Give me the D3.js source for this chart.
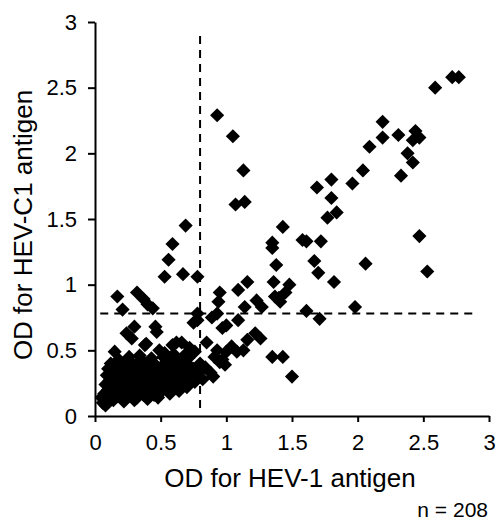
<!DOCTYPE html>
<html lang="en">
<head>
<meta charset="utf-8">
<title>HEV-1 vs HEV-C1 OD</title>
<script src="https://d3js.org/d3.v7.min.js"></script>
<style>
  body { margin: 0; background: #fff; }
  text { font-family: "Liberation Sans", Arial, sans-serif; fill: #000; }
</style>
</head>
<body>
<svg class="chart"></svg>
<script>
// OD for HEV-1 antigen (x) and OD for HEV-C1 antigen (y)
var hevOne = [
  2.59,2.72,2.77,2.19,2.19,2.31,2.44,2.42,2.47,2.09,2.38,2.42,2.33,2.04,1.96,1.80,1.69,1.80,1.84,1.77,
  1.43,1.61,1.72,2.47,1.67,2.06,2.53,1.70,1.82,1.48,1.45,1.98,1.61,1.71,1.50,0.93,1.05,1.13,1.07,1.14,
  1.35,1.35,1.58,1.38,0.78,1.16,1.09,1.36,1.37,0.95,0.94,1.23,1.14,0.69,0.59,0.56,0.53,0.67,1.27,1.40,
  0.17,0.32,0.37,0.40,0.44,0.21,0.75,0.78,0.89,0.93,1.09,1.00,0.97,0.30,0.24,0.28,0.46,0.47,0.15,0.25,
  0.39,0.49,0.53,0.62,0.66,0.72,0.76,0.85,0.93,1.00,1.04,1.08,1.13,0.97,1.22,1.26,1.16,1.35,1.43,0.80,
  0.84,0.88,0.90,0.76,0.78,1.41,0.91,0.95,0.99,0.38,0.34,0.59,0.71,0.55,
  0.06,0.08,0.09,0.07,0.10,0.08,0.11,0.09,0.12,0.13,0.14,0.12,0.14,0.15,0.16,0.17,0.18,0.19,0.17,0.20,
  0.21,0.22,0.20,0.23,0.24,0.25,0.26,0.27,0.28,0.29,0.30,0.31,0.32,0.33,0.34,0.35,0.36,0.37,0.38,0.39,
  0.40,0.41,0.42,0.43,0.44,0.45,0.46,0.47,0.48,0.49,0.50,0.51,0.52,0.53,0.54,0.55,0.56,0.57,0.58,0.59,
  0.60,0.61,0.62,0.63,0.64,0.65,0.66,0.67,0.68,0.69,0.70,0.71,0.72,0.73,0.74,0.75,0.12,0.18,0.26,0.33,
  0.43,0.52,0.60,0.68,0.05,0.10,0.22,0.30,0.40,0.48,0.57,0.64,0.70,0.78,0.80,0.82,0.45,0.36
];
var hevC1 = [
  2.50,2.58,2.58,2.24,2.12,2.14,2.17,2.10,2.12,2.05,2.00,1.93,1.83,1.87,1.77,1.80,1.74,1.66,1.55,1.51,
  1.44,1.33,1.33,1.37,1.18,1.16,1.10,1.09,1.02,1.00,0.94,0.83,0.80,0.74,0.30,2.29,2.13,1.87,1.61,1.63,
  1.32,1.28,1.34,1.15,1.06,1.02,0.96,1.02,0.91,0.94,0.87,0.88,0.83,1.45,1.31,1.19,1.06,1.08,0.83,0.90,
  0.91,0.94,0.89,0.85,0.82,0.81,0.71,0.73,0.75,0.78,0.73,0.69,0.67,0.68,0.63,0.59,0.68,0.64,0.49,0.43,
  0.55,0.50,0.48,0.56,0.56,0.52,0.49,0.56,0.50,0.49,0.53,0.49,0.50,0.43,0.63,0.59,0.58,0.45,0.45,0.40,
  0.37,0.33,0.30,0.26,0.78,0.87,0.45,0.41,0.39,0.54,0.46,0.54,0.44,0.43,
  0.10,0.08,0.13,0.17,0.20,0.24,0.27,0.31,0.16,0.22,0.12,0.34,0.29,0.25,0.19,0.15,0.22,0.30,0.36,0.27,
  0.18,0.24,0.39,0.33,0.14,0.21,0.28,0.37,0.17,0.25,0.32,0.22,0.14,0.28,0.19,0.35,0.25,0.16,0.31,0.22,
  0.38,0.28,0.18,0.34,0.24,0.16,0.30,0.21,0.36,0.27,0.18,0.33,0.23,0.40,0.29,0.20,0.35,0.26,0.22,0.38,
  0.31,0.24,0.42,0.34,0.28,0.22,0.37,0.31,0.26,0.41,0.34,0.29,0.38,0.32,0.27,0.36,0.40,0.43,0.45,0.41,
  0.44,0.45,0.47,0.46,0.14,0.36,0.11,0.12,0.13,0.14,0.17,0.19,0.22,0.30,0.34,0.28,0.40,0.42
];

var tickValues = [0, 0.5, 1, 1.5, 2, 2.5, 3];
var tickLabels = ["0", "0.5", "1", "1.5", "2", "2.5", "3"];
var cutoffX = 0.8;   // dashed vertical cut-off
var cutoffY = 0.78;  // dashed horizontal cut-off
var sampleNote = "n = 208";

var points = hevOne.map(function(d, i){ return {x: d, y: hevC1[i]}; });

var width = 497, height = 520;
var svg = d3.select(".chart").attr("width", width).attr("height", height);

var x = d3.scaleLinear().domain([0, 3]).range([95, 489]);
var y = d3.scaleLinear().domain([0, 3]).range([416, 22]);

//dashed cut-off lines
svg.append("line")
  .attr("x1", x(cutoffX)).attr("x2", x(cutoffX))
  .attr("y1", y(0.06)).attr("y2", y(2.92))
  .attr("stroke", "#000").attr("stroke-width", 2).attr("stroke-dasharray", "8,6");

svg.append("line")
  .attr("x1", x(0.04)).attr("x2", x(2.9))
  .attr("y1", y(cutoffY)).attr("y2", y(cutoffY))
  .attr("stroke", "#000").attr("stroke-width", 2).attr("stroke-dasharray", "8,6");

//diamonds
var diamond = d3.symbol().type(d3.symbolSquare).size(100);
svg.append("g").selectAll("path")
  .data(points)
  .enter().append("path")
  .attr("d", diamond)
  .attr("transform", function(d){ return "translate(" + x(d.x) + "," + y(d.y) + ") rotate(45)"; })
  .attr("fill", "#000");

//axes
var fmt = function(d, i){ return tickLabels[i]; };

var xAxis = svg.append("g")
  .attr("transform", "translate(0," + y(0) + ")")
  .call(d3.axisBottom(x).tickValues(tickValues).tickFormat(fmt).tickSize(6).tickSizeOuter(0).tickPadding(12));

var yAxis = svg.append("g")
  .attr("transform", "translate(" + x(0) + ",0)")
  .call(d3.axisLeft(y).tickValues(tickValues).tickFormat(fmt).tickSize(7).tickSizeOuter(0).tickPadding(11));

[xAxis, yAxis].forEach(function(a){
  a.select(".domain").attr("stroke", "#000").attr("stroke-width", 2);
  a.selectAll(".tick line").attr("stroke", "#000").attr("stroke-width", 2);
  a.selectAll(".tick text").style("font-size", "22px").style("font-family", "'Liberation Sans', Arial, sans-serif").attr("fill", "#000");
});

//titles
svg.append("text")
  .attr("x", 290).attr("y", 487)
  .attr("text-anchor", "middle")
  .style("font-size", "26px")
  .text("OD for HEV-1 antigen");

svg.append("text")
  .attr("transform", "translate(32,225) rotate(-90)")
  .attr("text-anchor", "middle")
  .style("font-size", "26px")
  .text("OD for HEV-C1 antigen");

svg.append("text")
  .attr("x", 488).attr("y", 517)
  .attr("text-anchor", "end")
  .style("font-size", "21px")
  .text(sampleNote);
</script>
</body>
</html>
